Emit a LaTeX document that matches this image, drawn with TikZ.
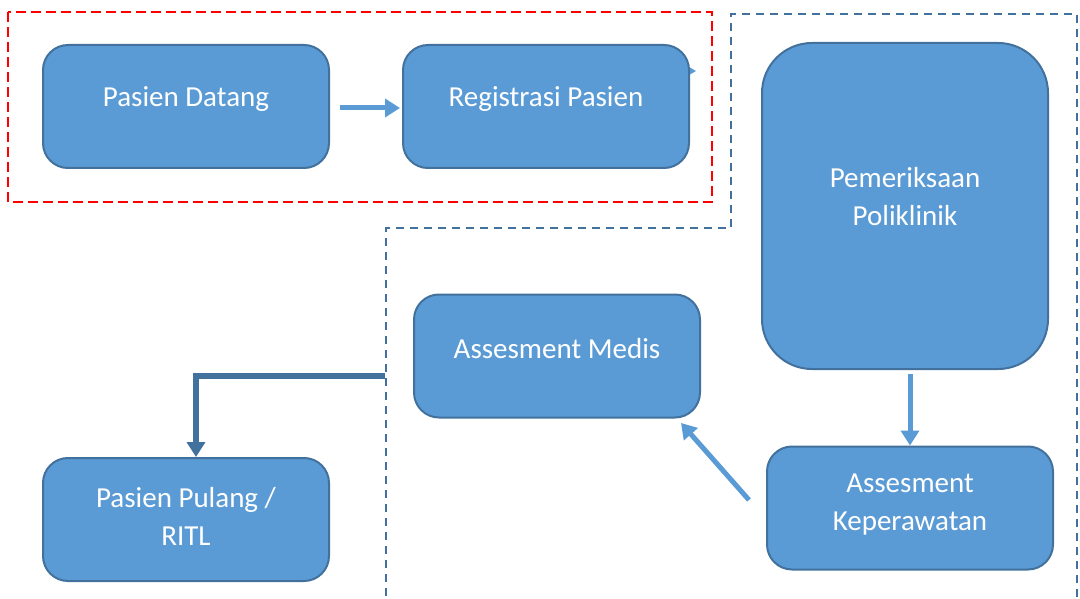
\documentclass[tikz,border=0pt]{standalone}
\usepackage{fontspec}
\setmainfont{Carlito}
\usetikzlibrary{arrows.meta}
\definecolor{boxfill}{HTML}{5B9BD5}
\definecolor{boxline}{HTML}{41719C}
\tikzset{
	box/.style={draw=boxline, line width=2pt, fill=boxfill, rounded corners=25pt, minimum width=286pt, minimum height=123pt},
	boxtext/.style={text=white, align=center, font=\fontsize{29}{38}\selectfont},
	flow/.style={draw=boxfill, line width=5pt, -{Triangle[length=15pt, width=18pt]}},
}
\begin{document}
\begin{tikzpicture}[x=1pt, y=-1pt]
		\useasboundingbox (0,0) rectangle (1080,599);
		% areas
		\draw[line width=2.8pt, red, dash pattern=on 10pt off 5pt] (8,12) rectangle (712,202);
		\draw[line width=2.8pt, boxline, dash pattern=on 8pt off 6pt] (386,610) -- (386,228) -- (731,228) -- (731,14) -- (1077,14) -- (1077,610);
		% boxes
		\node[box] (datang) at (186,106.5) {};
		\node[box] (regis) at (546,106.5) {};
		\node[box, minimum height=326pt, rounded corners=50pt] (poli) at (905,206) {};
		\node[box] (medis) at (557,356) {};
		\node[box] (rawat) at (910,508) {};
		\node[box] (pulang) at (186,519.5) {};
		\node[boxtext] (tdatang) at ([yshift=7]datang.center) {Pasien Datang};
		\node[boxtext] (tregis) at ([yshift=7]regis.center) {Registrasi Pasien};
		\node[boxtext] (tpoli) at ([yshift=9]poli.center) {Pemeriksaan\\Poliklinik};
		\node[boxtext] (tmedis) at ([yshift=7]medis.center) {Assesment Medis};
		\node[boxtext] (trawat) at ([yshift=3]rawat.center) {Assesment\\Keperawatan};
		\node[boxtext] (tpulang) at ([yshift=3.5]pulang.center) {Pasien Pulang /\\RITL};
		% arrows
		\draw[flow] ([xshift=10, yshift=-1.5]datang.east) -- ([xshift=-2, yshift=-1.5]regis.west);
		\draw[flow] ([yshift=-4]rawat.north |- poli.south) -- (rawat.north);
		\draw[flow] (749,500) -- (681,423);
		\fill[boxfill] ([yshift=-27]regis.north east) ++(0,-3.5) -- ++(6,3.5) -- ++(-6,3.5) -- cycle;
		\coordinate (keluar) at (385,376);
		\draw[flow, draw=boxline, line width=5.5pt] (keluar) -| ([xshift=10]pulang.north);
	\end{tikzpicture}
\end{document}
